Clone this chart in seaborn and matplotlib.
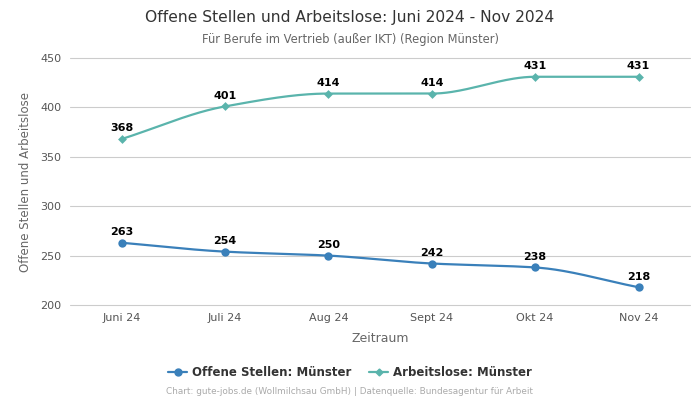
import numpy as np
import pandas as pd
import matplotlib
matplotlib.use("Agg")
import matplotlib.pyplot as plt
import seaborn as sns

months = ["Juni 24", "Juli 24", "Aug 24", "Sept 24", "Okt 24", "Nov 24"]
offene = [263, 254, 250, 242, 238, 218]
arbeitslose = [368, 401, 414, 414, 431, 431]
series_names = ["Offene Stellen: Münster", "Arbeitslose: Münster"]
colors = ["#3a80ba", "#5ab4ac"]

sns.set_theme(style="white")
plt.rcParams['font.family'] = ['DejaVu Sans']

def monotone(xs, ys, n=200):
    xs = np.asarray(xs, float); ys = np.asarray(ys, float)
    h = np.diff(xs); d = np.diff(ys) / h
    m = np.zeros_like(ys)
    m[0] = d[0]; m[-1] = d[-1]
    for i in range(1, len(ys) - 1):
        if d[i-1] * d[i] <= 0:
            m[i] = 0
        else:
            w1 = 2*h[i] + h[i-1]; w2 = h[i] + 2*h[i-1]
            m[i] = (w1 + w2) / (w1/d[i-1] + w2/d[i])
    xx = np.linspace(xs[0], xs[-1], n)
    yy = np.empty_like(xx)
    for k, x in enumerate(xx):
        i = min(np.searchsorted(xs, x, side='right') - 1, len(xs) - 2)
        t = (x - xs[i]) / h[i]
        h00 = 2*t**3 - 3*t**2 + 1; h10 = t**3 - 2*t**2 + t
        h01 = -2*t**3 + 3*t**2; h11 = t**3 - t**2
        yy[k] = h00*ys[i] + h10*h[i]*m[i] + h01*ys[i+1] + h11*h[i]*m[i+1]
    return xx, yy

df = pd.DataFrame({
    "x": list(range(len(months))) * 2,
    "Wert": offene + arbeitslose,
    "Serie": [series_names[0]] * len(months) + [series_names[1]] * len(months),
})

fig = plt.figure(figsize=(7, 4), dpi=100)
ax = fig.add_axes([0.1, 0.2375, 0.886, 0.6175])

yticks = [200, 250, 300, 350, 400, 450]
for yt in yticks:
    ax.axhline(yt, color="#cccccc", lw=0.8, zorder=0, clip_on=False)

for name, vals, col, mk, ms in zip(series_names, [offene, arbeitslose], colors, ["o", "D"], [6, 4.5]):
    xx, yy = monotone(range(len(vals)), vals)
    ax.plot(xx, yy, color=col, lw=1.6, zorder=2)
    sub = df[df["Serie"] == name]
    sns.scatterplot(data=sub, x="x", y="Wert", ax=ax, color=col, marker=mk, s=ms**2,
                    edgecolor=col, linewidth=0, zorder=3, legend=False)
    for i, v in enumerate(vals):
        ax.annotate(str(v), (i, v), xytext=(0, 4), textcoords="offset points",
                    ha="center", va="bottom", fontsize=8, fontweight="bold", color="black")

ax.set_xlim(-0.5, len(months) - 0.5)
ax.set_ylim(200, 450)
ax.set_yticks(yticks)
ax.set_xticks(range(len(months)))
ax.set_xticklabels(months)
ax.tick_params(axis="both", labelsize=8, colors="#555555", length=0, pad=6)
ax.grid(False)
for s in ax.spines.values():
    s.set_visible(False)
ax.set_xlabel("Zeitraum", fontsize=9, color="#666666", labelpad=6)
ax.set_ylabel("Offene Stellen und Arbeitslose", fontsize=8.5, color="#666666", labelpad=6)

fig.text(0.5, 0.957, "Offene Stellen und Arbeitslose: Juni 2024 - Nov 2024",
         ha="center", va="center", fontsize=11.2, color="#333333")
fig.text(0.5, 0.9025, "Für Berufe im Vertrieb (außer IKT) (Region Münster)",
         ha="center", va="center", fontsize=8.3, color="#666666")

from matplotlib.lines import Line2D
handles = [Line2D([0], [0], color=colors[0], lw=1.6, marker="o", ms=5),
           Line2D([0], [0], color=colors[1], lw=1.6, marker="D", ms=3.5)]
fig.legend(handles, series_names, loc="center", bbox_to_anchor=(0.5, 0.0675), ncol=2,
           frameon=False, prop={"size": 8.5, "weight": "bold"}, labelcolor="#333333",
           handlelength=1.6, columnspacing=1.5, handletextpad=0.4)
fig.text(0.5, 0.02, "Chart: gute-jobs.de (Wollmilchsau GmbH) | Datenquelle: Bundesagentur für Arbeit",
         ha="center", va="center", fontsize=6.4, color="#aaaaaa")

fig.savefig("out.png", dpi=100)
